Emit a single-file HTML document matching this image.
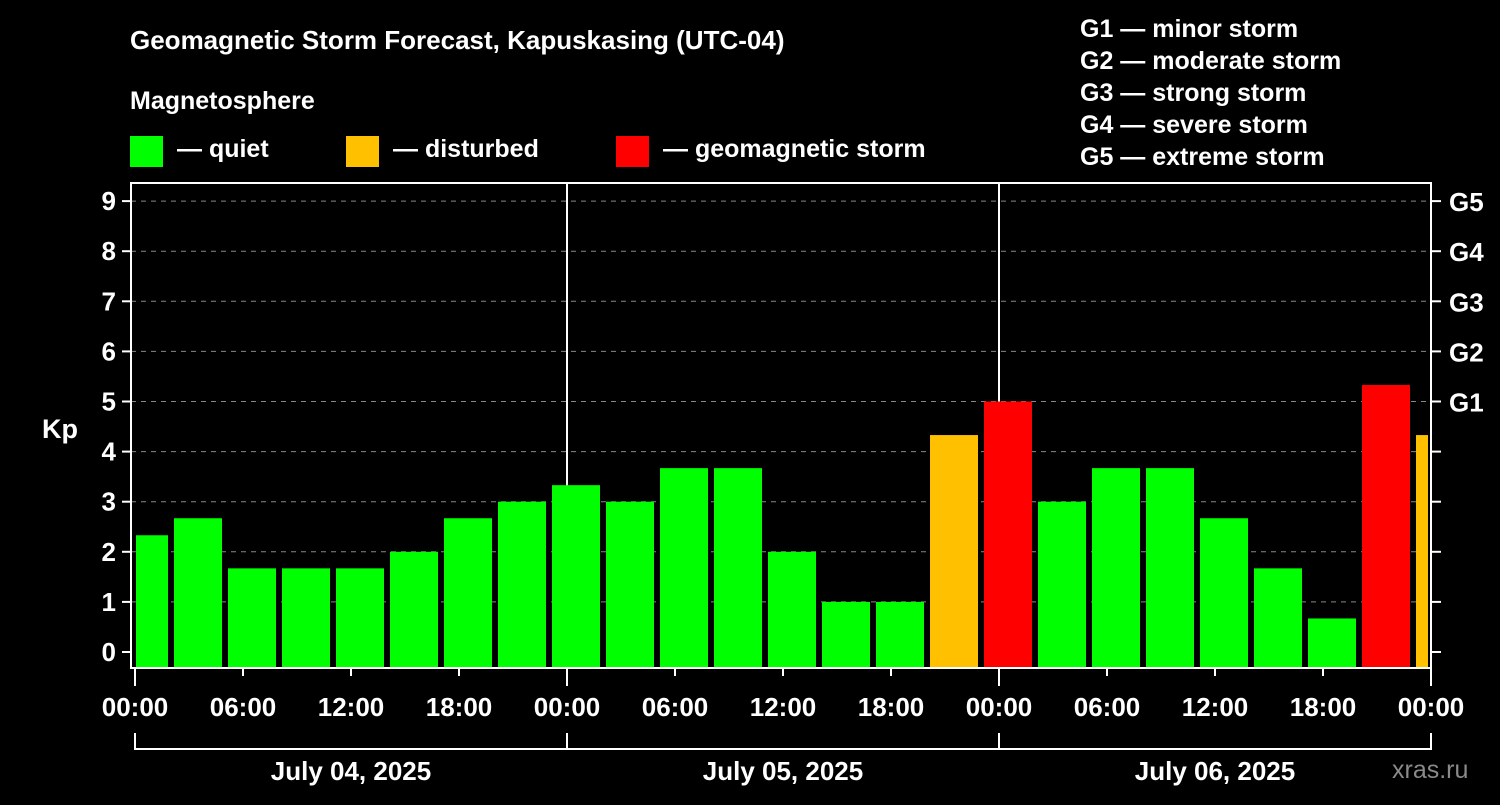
<!DOCTYPE html>
<html><head><meta charset="utf-8"><style>
body{margin:0;background:#000;width:1500px;height:800px;overflow:hidden}
svg text{font-family:"Liberation Sans",Arial,sans-serif;font-weight:bold;fill:#fff}
</style></head><body>
<svg id="chart" width="1500" height="800" viewBox="0 0 1500 800" xmlns="http://www.w3.org/2000/svg">
<rect width="1500" height="800" fill="#000"/>
<text x="130" y="49" font-size="26">Geomagnetic Storm Forecast, Kapuskasing (UTC-04)</text>
<text x="130" y="109" font-size="25">Magnetosphere</text>
<g><rect x="130" y="136" width="33" height="31" fill="#00ff00"/><text x="177" y="157" font-size="25">— quiet</text></g>
<g><rect x="346" y="136" width="33" height="31" fill="#ffc000"/><text x="393" y="157" font-size="25">— disturbed</text></g>
<g><rect x="616" y="136" width="33" height="31" fill="#ff0000"/><text x="663" y="157" font-size="25">— geomagnetic storm</text></g>
<g font-size="25">
<text x="1080" y="37">G1 — minor storm</text>
<text x="1080" y="69">G2 — moderate storm</text>
<text x="1080" y="101">G3 — strong storm</text>
<text x="1080" y="133">G4 — severe storm</text>
<text x="1080" y="165">G5 — extreme storm</text>
</g>
<text x="42" y="438" font-size="27">Kp</text>
<g id="grid"></g><g id="bars"></g><g id="axes"></g>
<text x="1392" y="778" font-size="25" fill="#888" style="fill:#8a8a8a;font-weight:normal">xras.ru</text>
</svg>
<script>
const kpValues=[2.33,2.67,1.67,1.67,1.67,2,2.67,3,3.33,3,3.67,3.67,2,1,1,4.33,5,3,3.67,3.67,2.67,1.67,0.67,5.33,4.33];
const yTicks=[0,1,2,3,4,5,6,7,8,9];
const gLabels=["G1","G2","G3","G4","G5"];
const xTickLabels=["00:00","06:00","12:00","18:00","00:00","06:00","12:00","18:00","00:00","06:00","12:00","18:00","00:00"];
const dayLabels=["July 04, 2025","July 05, 2025","July 06, 2025"];
const NS="http://www.w3.org/2000/svg";
const L=131,R=1431,T=183,B=668;
const y=v=>652-v*50.1;
const xh=h=>135+h*18; // hours from start
function mk(tag,attrs,parent,text){const e=document.createElementNS(NS,tag);for(const k in attrs)e.setAttribute(k,attrs[k]);if(text!==undefined)e.textContent=text;parent.appendChild(e);return e;}
const grid=document.getElementById('grid'),bars=document.getElementById('bars'),axes=document.getElementById('axes');
yTicks.forEach(v=>{
 if(v>0){const g=mk('line',{x1:L,x2:R,y1:y(v),y2:y(v),stroke:'#888','stroke-dasharray':'5,5','stroke-width':1},grid);
 
 }
 const t=mk('line',{x1:122,x2:L,y1:y(v),y2:y(v),stroke:'#fff','stroke-width':2},axes);
 
 
 const tl=mk('text',{x:116,y:y(v)+9,'font-size':26,'text-anchor':'end'},axes,String(v));
 
 
 const rt=mk('line',{x1:R,x2:1441,y1:y(v),y2:y(v),stroke:'#fff','stroke-width':2},axes);
 
 
});
gLabels.forEach((g,i)=>{
 const t=mk('text',{x:1449,y:y(5+i)+10,'font-size':26},axes,g);
 
 
});
[1,2].forEach(d=>{const l=mk('line',{x1:xh(24*d),x2:xh(24*d),y1:T,y2:B,stroke:'#fff','stroke-width':2},grid);
 
 });
kpValues.forEach((v,i)=>{
 const c=xh(3*i+1.5)-9+9; // bar center
 const cx=144+54*i;
 let x1=Math.max(cx-24,L+5),x2=Math.min(cx+24,R-3);
 const col=v>=5?'#ff0000':(v>=4?'#ffc000':'#00ff00');
 const b=mk('rect',{x:x1,y:y(v),width:x2-x1,height:B-y(v),fill:col},bars);
 
 
});
const f=mk('rect',{x:L,y:T,width:R-L,height:B-T,fill:'none',stroke:'#fff','stroke-width':2},axes);


xTickLabels.forEach((s,i)=>{
 const x=xh(6*i);const major=i%4===0;
 const t=mk('line',{x1:x,x2:x,y1:B,y2:major?686:676,stroke:'#fff','stroke-width':2},axes);
 
 
 const tl=mk('text',{x:x,y:716,'font-size':26,'text-anchor':'middle'},axes,s);
 
 
});
dayLabels.forEach((s,i)=>{
 const x0=xh(24*i),x1=xh(24*(i+1));
 const p=mk('path',{d:`M${x0},733V749H${x1}V733`,stroke:'#fff','stroke-width':2,fill:'none'},axes);
 
 
 const t=mk('text',{x:(x0+x1)/2,y:780,'font-size':26,'text-anchor':'middle'},axes,s);
 
 
});
</script>
</body></html>
